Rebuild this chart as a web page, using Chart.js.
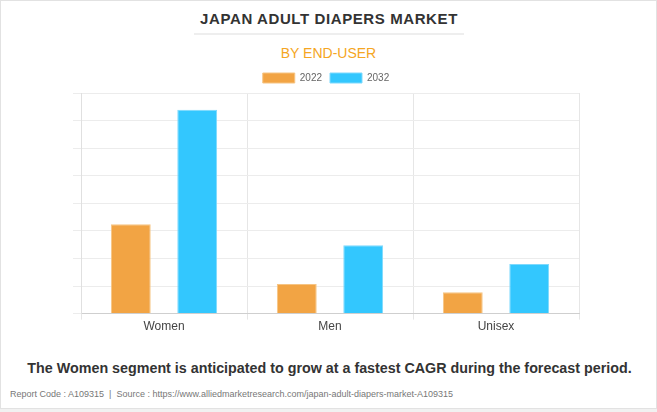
<!DOCTYPE html>
<html>
<head>
<meta charset="utf-8">
<script src="https://cdn.jsdelivr.net/npm/chart.js@4.4.1/dist/chart.umd.min.js"></script>
<style>
    html, body { margin: 0; padding: 0; background: #f1f1f1; }
    #card {
        position: absolute; left: 0; top: 0; width: 655px; height: 407px;
        background: #fff; border: 1px solid #e2e2e2;
        font-family: "Liberation Sans", Arial, sans-serif;
    }
    #title {
        position: absolute; left: 193px; width: 270px; top: 9px; height: 23px;
        text-align: center; font-weight: bold; font-size: 15px; letter-spacing: 0.6px;
        color: #333; border-bottom: 2px solid #eee;
    }
    #subtitle {
        position: absolute; left: 0; width: 655px; top: 44px;
        text-align: center; font-size: 14px; color: #f5a623; font-weight: normal;
    }
    #note {
        position: absolute; left: 0; width: 657px; top: 359px;
        text-align: center; font-weight: bold; font-size: 14.3px; color: #333;
    }
    #source {
        position: absolute; left: 9px; top: 388px; font-size: 9px; color: #777;
    }
    #wrap { position: absolute; left: 0; top: 0; width: 657px; height: 412px; }
</style>
</head>
<body>
<div id="card">
    <div id="title">JAPAN ADULT DIAPERS MARKET</div>
    <div id="subtitle">BY END-USER</div>
    <div id="note">The Women segment is anticipated to grow at a fastest CAGR during the forecast period.</div>
    <div id="source">Report Code : A109315 &nbsp;|&nbsp; Source : https://www.alliedmarketresearch.com/japan-adult-diapers-market-A109315</div>
</div>
<div id="wrap"><canvas id="chart"></canvas></div>
<script>
    // end-user segments, values
    const categories = ['Women', 'Men', 'Unisex'];
    const values2022 = [3.24, 1.07, 0.77];
    const values2032 = [7.39, 2.48, 1.80];

    const ctx = document.getElementById('chart');
    new Chart(ctx, {
        type: 'bar',
        data: {
            labels: categories,
            datasets: [{
                label: '2022',
                data: values2022,
                backgroundColor: '#f2a444',
                borderColor: '#f6c483',
                borderWidth: 1
            }, {
                label: '2032',
                data: values2032,
                backgroundColor: '#33c7fe',
                borderColor: '#7ed9fd',
                borderWidth: 1
            }]
        },
        options: {
            responsive: true,
            maintainAspectRatio: false,
            animation: false,
            layout: { padding: { left: 73, right: 78, top: 65, bottom: 78 } },
            categoryPercentage: 0.8,
            barPercentage: 0.6,
            plugins: {
                legend: {
                    position: 'top',
                    labels: {
                        boxWidth: 32,
                        boxHeight: 10,
                        padding: 8,
                        color: '#666',
                        font: { family: 'Liberation Sans', size: 10 }
                    }
                },
                tooltip: { enabled: false }
            },
            scales: {
                x: {
                    grid: { color: '#e6e6e6', tickLength: 6 },
                    border: { color: '#cfcfcf' },
                    ticks: { color: '#444', padding: 0, font: { family: 'Liberation Sans', size: 12 } }
                },
                y: {
                    min: 0,
                    max: 8,
                    ticks: { display: false, stepSize: 1 },
                    grid: { color: '#ececec', tickLength: 8 },
                    border: { color: '#e0e0e0' }
                }
            }
        }
    });
</script>
</body>
</html>
